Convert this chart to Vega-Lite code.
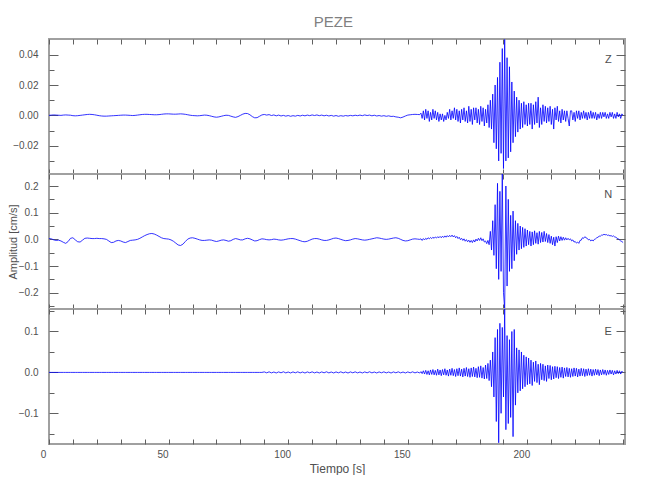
{
"$schema":"https://vega.github.io/schema/vega-lite/v6.json",
"background":"white",
"padding":{"left":6,"top":14,"right":0,"bottom":0},
"spacing":0,
"bounds":"flush",
"title":{"text":"PEZE","fontSize":15,"color":"#808080","fontWeight":"normal","font":"Liberation Sans","anchor":"middle","dx":17,"offset":8},
"config":{
 "font":"Liberation Sans",
 "view":{"stroke":"#a0a0a0","strokeWidth":2},
 "axis":{"domain":false,"grid":false,"tickColor":"#606060","tickWidth":1,"labelColor":"#505050","labelFontSize":10,"labelFont":"Liberation Sans","titleFont":"Liberation Sans","titleColor":"#505050","titleFontWeight":"normal","titleFontSize":11,"labelOverlap":false,"labelFlush":false}
},
"datasets":{"s":[
{"t":0,"z":0,"n":0.003,"e":0},
{"t":1,"z":0.0002,"n":0.002,"e":0},
{"t":2,"z":0.0003,"n":-0.002,"e":0},
{"t":3,"z":0.0002,"n":-0.004,"e":0},
{"t":4,"z":0.0001,"n":-0.003,"e":0},
{"t":5,"z":0,"n":-0.006,"e":0},
{"t":6,"z":0.0002,"n":-0.011,"e":0},
{"t":7,"z":0.0003,"n":-0.015,"e":0},
{"t":8,"z":0.0002,"n":-0.008,"e":0},
{"t":9,"z":0.0001,"n":0.004,"e":0},
{"t":10,"z":-0.0002,"n":0.006,"e":0},
{"t":11,"z":-0.0003,"n":-0.002,"e":0},
{"t":12,"z":-0.0002,"n":-0.009,"e":0},
{"t":13,"z":0,"n":-0.01,"e":0},
{"t":14,"z":0.0002,"n":-0.003,"e":0},
{"t":15,"z":0.0004,"n":0.004,"e":0},
{"t":16,"z":0.0006,"n":0.005,"e":0},
{"t":17,"z":0.0007,"n":0.004,"e":0},
{"t":18,"z":0.0006,"n":0.003,"e":0},
{"t":19,"z":0.0004,"n":0.003,"e":0},
{"t":20,"z":0.0001,"n":0.004,"e":0},
{"t":21,"z":-0.0002,"n":0.003,"e":0},
{"t":22,"z":-0.0004,"n":0.003,"e":0},
{"t":23,"z":-0.0005,"n":0.002,"e":0},
{"t":24,"z":-0.0005,"n":0,"e":0},
{"t":25,"z":-0.0004,"n":-0.006,"e":0},
{"t":26,"z":-0.0003,"n":-0.012,"e":0},
{"t":27,"z":-0.0002,"n":-0.011,"e":0},
{"t":28,"z":-0.0001,"n":-0.006,"e":0},
{"t":29,"z":0,"n":-0.004,"e":0},
{"t":30,"z":0.0001,"n":-0.006,"e":0},
{"t":31,"z":0.0002,"n":-0.01,"e":0},
{"t":32,"z":0.0002,"n":-0.012,"e":0},
{"t":33,"z":0.0001,"n":-0.008,"e":0},
{"t":34,"z":0,"n":-0.004,"e":0},
{"t":35,"z":-0.0001,"n":-0.003,"e":0},
{"t":36,"z":0,"n":-0.002,"e":0},
{"t":37,"z":0.0002,"n":0,"e":0},
{"t":38,"z":0.0004,"n":0.004,"e":0},
{"t":39,"z":0.0006,"n":0.009,"e":0},
{"t":40,"z":0.0007,"n":0.014,"e":0},
{"t":41,"z":0.0007,"n":0.018,"e":0},
{"t":42,"z":0.0006,"n":0.021,"e":0},
{"t":43,"z":0.0005,"n":0.022,"e":0},
{"t":44,"z":0.0004,"n":0.02,"e":0},
{"t":45,"z":0.0004,"n":0.016,"e":0},
{"t":46,"z":0.0005,"n":0.011,"e":0},
{"t":47,"z":0.0007,"n":0.006,"e":0},
{"t":48,"z":0.0009,"n":0.003,"e":0},
{"t":49,"z":0.001,"n":0.002,"e":0},
{"t":50,"z":0.001,"n":0.001,"e":0},
{"t":51,"z":0.0009,"n":-0.002,"e":0},
{"t":52,"z":0.0008,"n":-0.007,"e":0},
{"t":53,"z":0.0008,"n":-0.014,"e":0},
{"t":54,"z":0.0009,"n":-0.021,"e":0},
{"t":55,"z":0.001,"n":-0.023,"e":0},
{"t":56,"z":0.0009,"n":-0.018,"e":0},
{"t":57,"z":0.0007,"n":-0.008,"e":0},
{"t":58,"z":0.0004,"n":0.001,"e":0},
{"t":59,"z":0.0001,"n":0.005,"e":0},
{"t":60,"z":-0.0001,"n":0.006,"e":0},
{"t":61,"z":-0.0002,"n":0.004,"e":0},
{"t":62,"z":-0.0003,"n":0.001,"e":0},
{"t":63,"z":-0.0002,"n":-0.002,"e":0},
{"t":64,"z":0,"n":-0.004,"e":0},
{"t":65,"z":0.0002,"n":-0.004,"e":0},
{"t":66,"z":0.0001,"n":-0.003,"e":0},
{"t":67,"z":-0.0002,"n":-0.002,"e":0},
{"t":68,"z":-0.0006,"n":-0.003,"e":0},
{"t":69,"z":-0.001,"n":-0.006,"e":0},
{"t":70,"z":-0.0012,"n":-0.008,"e":0},
{"t":71,"z":-0.001,"n":-0.006,"e":0},
{"t":72,"z":-0.0006,"n":-0.003,"e":0},
{"t":73,"z":-0.0002,"n":-0.002,"e":0},
{"t":74,"z":0.0001,"n":-0.004,"e":0},
{"t":75,"z":0,"n":-0.007,"e":0},
{"t":76,"z":-0.0005,"n":-0.005,"e":0},
{"t":77,"z":-0.001,"n":0,"e":0},
{"t":78,"z":-0.0013,"n":0.003,"e":0},
{"t":79,"z":-0.0008,"n":0.001,"e":0},
{"t":80,"z":0,"n":-0.002,"e":0},
{"t":81,"z":0.0008,"n":-0.002,"e":0},
{"t":82,"z":0.0013,"n":0.002,"e":0},
{"t":83,"z":0.0012,"n":0.004,"e":0},
{"t":84,"z":0.0004,"n":0.002,"e":0},
{"t":85,"z":-0.0008,"n":-0.002,"e":0},
{"t":86,"z":-0.0016,"n":-0.006,"e":0},
{"t":87,"z":-0.0015,"n":-0.005,"e":0},
{"t":88,"z":-0.0006,"n":-0.001,"e":0},
{"t":89,"z":0.0003,"n":0.002,"e":0},
{"t":90,"z":0.0006,"n":0.001,"e":0.0012},
{"t":91,"z":0.0002,"n":-0.001,"e":-0.001},
{"t":92,"z":0.0005,"n":-0.002,"e":0.0014},
{"t":93,"z":-0.0001,"n":-0.001,"e":-0.0012},
{"t":94,"z":0.0003,"n":0.001,"e":0.001},
{"t":95,"z":-0.0003,"n":0,"e":-0.0014},
{"t":96,"z":0.0002,"n":-0.002,"e":0.0012},
{"t":97,"z":-0.0004,"n":-0.003,"e":-0.001},
{"t":98,"z":0,"n":-0.002,"e":0.0015},
{"t":99,"z":-0.0005,"n":0,"e":-0.0012},
{"t":100,"z":-0.0001,"n":0.002,"e":0.001},
{"t":101,"z":-0.0006,"n":0.003,"e":-0.0014},
{"t":102,"z":-0.0002,"n":0.003,"e":0.0012},
{"t":103,"z":-0.0005,"n":0.001,"e":-0.001},
{"t":104,"z":0,"n":-0.002,"e":0.0014},
{"t":105,"z":-0.0004,"n":-0.005,"e":-0.0012},
{"t":106,"z":0.0001,"n":-0.008,"e":0.001},
{"t":107,"z":-0.0003,"n":-0.009,"e":-0.0015},
{"t":108,"z":0.0002,"n":-0.007,"e":0.0012},
{"t":109,"z":-0.0002,"n":-0.003,"e":-0.001},
{"t":110,"z":0.0003,"n":0.001,"e":0.0014},
{"t":111,"z":-0.0001,"n":0.003,"e":-0.0012},
{"t":112,"z":0.0003,"n":0.003,"e":0.001},
{"t":113,"z":-0.0002,"n":0.001,"e":-0.0014},
{"t":114,"z":0.0002,"n":-0.002,"e":0.0012},
{"t":115,"z":-0.0003,"n":-0.004,"e":-0.001},
{"t":116,"z":0.0001,"n":-0.004,"e":0.0015},
{"t":117,"z":-0.0004,"n":-0.002,"e":-0.0012},
{"t":118,"z":0,"n":0.001,"e":0.001},
{"t":119,"z":-0.0005,"n":0.004,"e":-0.0014},
{"t":120,"z":-0.0001,"n":0.005,"e":0.0012},
{"t":121,"z":-0.0006,"n":0.003,"e":-0.001},
{"t":122,"z":-0.0002,"n":0,"e":0.0014},
{"t":123,"z":-0.0005,"n":-0.003,"e":-0.0012},
{"t":124,"z":-0.0001,"n":-0.005,"e":0.001},
{"t":125,"z":-0.0004,"n":-0.004,"e":-0.0015},
{"t":126,"z":0,"n":-0.002,"e":0.0012},
{"t":127,"z":-0.0003,"n":0.001,"e":-0.001},
{"t":128,"z":0.0001,"n":0.003,"e":0.0014},
{"t":129,"z":-0.0002,"n":0.002,"e":-0.0012},
{"t":130,"z":0.0002,"n":0,"e":0.001},
{"t":131,"z":-0.0002,"n":-0.002,"e":-0.0014},
{"t":132,"z":0.0003,"n":-0.003,"e":0.0012},
{"t":133,"z":-0.0001,"n":-0.002,"e":-0.001},
{"t":134,"z":0.0002,"n":0,"e":0.0015},
{"t":135,"z":-0.0003,"n":0.002,"e":-0.0012},
{"t":136,"z":0.0001,"n":0.004,"e":0.001},
{"t":137,"z":-0.0004,"n":0.006,"e":-0.0014},
{"t":138,"z":-0.0001,"n":0.005,"e":0.0012},
{"t":139,"z":-0.0005,"n":0.003,"e":-0.001},
{"t":140,"z":-0.0002,"n":0.001,"e":0.0014},
{"t":141,"z":-0.0006,"n":0,"e":-0.0012},
{"t":142,"z":-0.0003,"n":0.001,"e":0.001},
{"t":143,"z":-0.0007,"n":0.003,"e":-0.0015},
{"t":144,"z":-0.0006,"n":0.005,"e":0.0012},
{"t":145,"z":-0.001,"n":0.006,"e":-0.001},
{"t":146,"z":-0.0012,"n":0.004,"e":0.0014},
{"t":147,"z":-0.0016,"n":0,"e":-0.0012},
{"t":148,"z":-0.0011,"n":-0.004,"e":0.001},
{"t":149,"z":-0.0004,"n":-0.006,"e":-0.0014},
{"t":150,"z":0.0002,"n":-0.005,"e":0.0012},
{"t":151,"z":0.0004,"n":-0.002,"e":-0.001},
{"t":152,"z":0.0006,"n":0.001,"e":0.0014},
{"t":153,"z":0.0007,"n":0.002,"e":-0.0012},
{"t":154,"z":0.0006,"n":0.001,"e":0.001},
{"t":155,"z":0.0005,"n":0,"e":-0.0015},
{"t":155.5,"z":0.0015,"n":0.002,"e":0.002},
{"t":156,"z":-0.002,"n":-0.004,"e":-0.003},
{"t":156.5,"z":0.003,"n":0.003,"e":0.004},
{"t":157,"z":-0.003,"n":-0.002,"e":-0.004},
{"t":157.5,"z":0.004,"n":0.004,"e":0.005},
{"t":158,"z":-0.002,"n":0,"e":-0.005},
{"t":158.5,"z":0.003,"n":0.006,"e":0.004},
{"t":159,"z":-0.004,"n":0.002,"e":-0.006},
{"t":159.5,"z":0.002,"n":0.007,"e":0.006},
{"t":160,"z":-0.003,"n":0.003,"e":-0.005},
{"t":160.5,"z":0.004,"n":0.008,"e":0.007},
{"t":161,"z":-0.002,"n":0.004,"e":-0.006},
{"t":161.5,"z":0.003,"n":0.009,"e":0.005},
{"t":162,"z":-0.003,"n":0.005,"e":-0.007},
{"t":162.5,"z":0.002,"n":0.01,"e":0.008},
{"t":163,"z":-0.004,"n":0.006,"e":-0.006},
{"t":163.5,"z":0.001,"n":0.011,"e":0.006},
{"t":164,"z":-0.003,"n":0.006,"e":-0.008},
{"t":164.5,"z":0.001,"n":0.012,"e":0.007},
{"t":165,"z":-0.004,"n":0.007,"e":-0.006},
{"t":165.5,"z":0,"n":0.013,"e":0.009},
{"t":166,"z":-0.003,"n":0.008,"e":-0.007},
{"t":166.5,"z":0.002,"n":0.014,"e":0.006},
{"t":167,"z":-0.002,"n":0.009,"e":-0.009},
{"t":167.5,"z":0.004,"n":0.015,"e":0.008},
{"t":168,"z":-0.003,"n":0.01,"e":-0.007},
{"t":168.5,"z":0.003,"n":0.016,"e":0.01},
{"t":169,"z":-0.002,"n":0.009,"e":-0.008},
{"t":169.5,"z":0.005,"n":0.014,"e":0.007},
{"t":170,"z":-0.003,"n":0.006,"e":-0.01},
{"t":170.5,"z":0.004,"n":0.011,"e":0.009},
{"t":171,"z":-0.004,"n":0.003,"e":-0.008},
{"t":171.5,"z":0.003,"n":0.008,"e":0.011},
{"t":172,"z":-0.005,"n":-0.001,"e":-0.009},
{"t":172.5,"z":0.004,"n":0.004,"e":0.008},
{"t":173,"z":-0.003,"n":-0.004,"e":-0.011},
{"t":173.5,"z":0.005,"n":0.002,"e":0.01},
{"t":174,"z":-0.004,"n":-0.007,"e":-0.009},
{"t":174.5,"z":0.003,"n":-0.001,"e":0.012},
{"t":175,"z":-0.005,"n":-0.009,"e":-0.01},
{"t":175.5,"z":0.006,"n":-0.003,"e":0.009},
{"t":176,"z":-0.004,"n":-0.011,"e":-0.012},
{"t":176.5,"z":0.004,"n":-0.004,"e":0.011},
{"t":177,"z":-0.006,"n":-0.012,"e":-0.01},
{"t":177.5,"z":0.005,"n":-0.002,"e":0.013},
{"t":178,"z":-0.003,"n":-0.01,"e":-0.011},
{"t":178.5,"z":0.005,"n":0.001,"e":0.01},
{"t":179,"z":-0.005,"n":-0.006,"e":-0.013},
{"t":179.5,"z":0.004,"n":0.004,"e":0.014},
{"t":180,"z":-0.006,"n":-0.004,"e":-0.012},
{"t":180.5,"z":0.006,"n":0.006,"e":0.016},
{"t":181,"z":-0.004,"n":-0.005,"e":-0.014},
{"t":181.5,"z":0.005,"n":0.002,"e":0.012},
{"t":182,"z":-0.007,"n":-0.01,"e":-0.016},
{"t":182.5,"z":0.004,"n":-0.006,"e":0.018},
{"t":183,"z":-0.005,"n":-0.016,"e":-0.015},
{"t":183.5,"z":0.007,"n":-0.004,"e":0.022},
{"t":184,"z":-0.008,"n":-0.02,"e":-0.02},
{"t":184.5,"z":0.01,"n":0.03,"e":0.03},
{"t":185,"z":-0.009,"n":-0.04,"e":-0.035},
{"t":185.5,"z":0.014,"n":0.07,"e":0.05},
{"t":186,"z":-0.018,"n":-0.06,"e":-0.06},
{"t":186.5,"z":0.02,"n":0.13,"e":0.085},
{"t":187,"z":-0.022,"n":-0.11,"e":-0.12},
{"t":187.5,"z":0.025,"n":0.21,"e":0.105},
{"t":188,"z":-0.03,"n":-0.15,"e":-0.172},
{"t":188.5,"z":0.035,"n":0.18,"e":0.12},
{"t":189,"z":-0.025,"n":-0.12,"e":-0.1},
{"t":189.5,"z":0.044,"n":0.245,"e":0.11},
{"t":190,"z":-0.035,"n":-0.2,"e":-0.06},
{"t":190.5,"z":0.05,"n":-0.261,"e":0.155},
{"t":191,"z":-0.03,"n":0.2,"e":-0.14},
{"t":191.5,"z":0.038,"n":-0.175,"e":0.09},
{"t":192,"z":-0.028,"n":0.15,"e":-0.125},
{"t":192.5,"z":0.032,"n":-0.12,"e":0.08},
{"t":193,"z":-0.024,"n":0.09,"e":-0.11},
{"t":193.5,"z":0.022,"n":-0.11,"e":0.1},
{"t":194,"z":-0.018,"n":0.106,"e":-0.157},
{"t":194.5,"z":0.016,"n":-0.08,"e":0.105},
{"t":195,"z":-0.014,"n":0.07,"e":-0.08},
{"t":195.5,"z":0.012,"n":-0.056,"e":0.06},
{"t":196,"z":-0.011,"n":0.06,"e":-0.05},
{"t":196.5,"z":0.01,"n":-0.04,"e":0.055},
{"t":197,"z":-0.009,"n":0.05,"e":-0.045},
{"t":197.5,"z":0.008,"n":-0.035,"e":0.05},
{"t":198,"z":-0.008,"n":0.045,"e":-0.04},
{"t":198.5,"z":0.009,"n":-0.03,"e":0.042},
{"t":199,"z":-0.006,"n":0.04,"e":-0.035},
{"t":199.5,"z":0.007,"n":-0.025,"e":0.038},
{"t":200,"z":-0.007,"n":0.035,"e":-0.03},
{"t":200.5,"z":0.008,"n":-0.02,"e":0.035},
{"t":201,"z":-0.006,"n":0.03,"e":-0.028},
{"t":201.5,"z":0.008,"n":-0.025,"e":0.03},
{"t":202,"z":-0.009,"n":0.028,"e":-0.032},
{"t":202.5,"z":0.007,"n":-0.02,"e":0.025},
{"t":203,"z":-0.006,"n":0.032,"e":-0.022},
{"t":203.5,"z":0.009,"n":-0.015,"e":0.028},
{"t":204,"z":-0.005,"n":0.025,"e":-0.025},
{"t":204.5,"z":0.012,"n":-0.018,"e":0.02},
{"t":205,"z":-0.008,"n":0.03,"e":-0.03},
{"t":205.5,"z":0.005,"n":-0.012,"e":0.022},
{"t":206,"z":-0.006,"n":0.026,"e":-0.018},
{"t":206.5,"z":0.007,"n":-0.01,"e":0.02},
{"t":207,"z":-0.004,"n":0.03,"e":-0.02},
{"t":207.5,"z":0.006,"n":-0.008,"e":0.016},
{"t":208,"z":-0.005,"n":0.022,"e":-0.022},
{"t":208.5,"z":0.005,"n":-0.012,"e":0.018},
{"t":209,"z":-0.004,"n":0.018,"e":-0.015},
{"t":209.5,"z":0.006,"n":-0.015,"e":0.017},
{"t":210,"z":-0.006,"n":0.012,"e":-0.018},
{"t":210.5,"z":0.004,"n":-0.02,"e":0.014},
{"t":211,"z":-0.009,"n":0.008,"e":-0.016},
{"t":211.5,"z":0.005,"n":-0.025,"e":0.015},
{"t":212,"z":-0.003,"n":0.01,"e":-0.013},
{"t":212.5,"z":0.006,"n":-0.012,"e":0.014},
{"t":213,"z":-0.004,"n":0.012,"e":-0.015},
{"t":213.5,"z":0.003,"n":-0.006,"e":0.012},
{"t":214,"z":-0.005,"n":0.01,"e":-0.012},
{"t":214.5,"z":0.004,"n":-0.004,"e":0.013},
{"t":215,"z":-0.003,"n":0.008,"e":-0.014},
{"t":215.5,"z":0.003,"n":-0.003,"e":0.011},
{"t":216,"z":-0.004,"n":0.006,"e":-0.01},
{"t":216.5,"z":0.003,"n":-0.002,"e":0.012},
{"t":217,"z":-0.002,"n":0.004,"e":-0.011},
{"t":217.5,"z":-0.007,"n":-0.002,"e":0.01},
{"t":218,"z":0.003,"n":0.002,"e":-0.012},
{"t":218.5,"z":0.003,"n":-0.006,"e":0.009},
{"t":219,"z":-0.003,"n":-0.002,"e":-0.01},
{"t":219.5,"z":0.002,"n":-0.01,"e":0.011},
{"t":220,"z":-0.004,"n":-0.008,"e":-0.009},
{"t":220.5,"z":0.003,"n":-0.014,"e":0.01},
{"t":221,"z":-0.002,"n":-0.01,"e":-0.011},
{"t":221.5,"z":0.003,"n":-0.015,"e":0.008},
{"t":222,"z":-0.003,"n":-0.004,"e":-0.009},
{"t":222.5,"z":0.002,"n":-0.003,"e":0.01},
{"t":223,"z":-0.002,"n":0.006,"e":-0.008},
{"t":223.5,"z":0.003,"n":0.004,"e":0.009},
{"t":224,"z":-0.002,"n":0.01,"e":-0.01},
{"t":224.5,"z":0.002,"n":0.006,"e":0.008},
{"t":225,"z":-0.003,"n":0.004,"e":-0.008},
{"t":225.5,"z":0.002,"n":-0.002,"e":0.009},
{"t":226,"z":-0.002,"n":0,"e":-0.007},
{"t":226.5,"z":0.003,"n":-0.006,"e":0.008},
{"t":227,"z":-0.002,"n":-0.002,"e":-0.009},
{"t":227.5,"z":0.002,"n":-0.006,"e":0.007},
{"t":228,"z":-0.002,"n":0,"e":-0.007},
{"t":228.5,"z":0.002,"n":0.002,"e":0.008},
{"t":229,"z":-0.003,"n":0.006,"e":-0.006},
{"t":229.5,"z":0.001,"n":0.008,"e":0.007},
{"t":230,"z":-0.002,"n":0.012,"e":-0.008},
{"t":230.5,"z":0.002,"n":0.012,"e":0.006},
{"t":231,"z":-0.002,"n":0.016,"e":-0.006},
{"t":231.5,"z":0.002,"n":0.016,"e":0.007},
{"t":232,"z":-0.001,"n":0.019,"e":-0.005},
{"t":232.5,"z":0.002,"n":0.017,"e":0.006},
{"t":233,"z":-0.002,"n":0.018,"e":-0.007},
{"t":233.5,"z":0.001,"n":0.015,"e":0.005},
{"t":234,"z":-0.002,"n":0.016,"e":-0.005},
{"t":234.5,"z":0.002,"n":0.013,"e":0.006},
{"t":235,"z":-0.001,"n":0.014,"e":-0.004},
{"t":235.5,"z":0.002,"n":0.011,"e":0.005},
{"t":236,"z":-0.002,"n":0.013,"e":-0.006},
{"t":236.5,"z":0.001,"n":0.009,"e":0.004},
{"t":237,"z":-0.002,"n":0.008,"e":-0.004},
{"t":237.5,"z":0.002,"n":0.004,"e":0.005},
{"t":238,"z":-0.001,"n":0.002,"e":-0.003},
{"t":238.5,"z":0.001,"n":-0.002,"e":0.004},
{"t":239,"z":-0.002,"n":-0.006,"e":-0.004},
{"t":239.5,"z":0.001,"n":-0.008,"e":0.003},
{"t":240,"z":0,"n":-0.012,"e":0}
]},
"vconcat":[
{
 "width":576,"height":135,
 "layer":[
  {"data":{"name":"s"},
   "mark":{"type":"line","color":"#0000ff","strokeWidth":0.8,"clip":true},
   "encoding":{
    "x":{"field":"t","type":"quantitative","scale":{"domain":[0,240.8],"nice":false,"zero":false},
         "axis":{"orient":"bottom","values":[0,10,20,30,40,50,60,70,80,90,100,110,120,130,140,150,160,170,180,190,200,210,220,230,240],"labels":false,"tickSize":-5,"title":null}},
    "y":{"field":"z","type":"quantitative","scale":{"domain":[-0.0386,0.0503],"nice":false,"zero":false},
         "axis":{"orient":"left","values":[-0.03,-0.02,-0.01,0,0.01,0.02,0.03,0.04],"format":".2f","labelExpr":"round(datum.value*100) % 2 == 0 ? datum.label : ''","tickSize":{"condition":{"test":"round(datum.value*100) % 2 == 0","value":-9},"value":-5},"labelPadding":20,"title":null}}
   }},
  {"data":{"values":[{"lab":"Z"}]},
   "mark":{"type":"text","fontSize":11,"color":"#505050"},
   "encoding":{
    "text":{"field":"lab"},
    "x":{"datum":233.8,"type":"quantitative","axis":{"orient":"top","values":[0,10,20,30,40,50,60,70,80,90,100,110,120,130,140,150,160,170,180,190,200,210,220,230,240],"labels":false,"tickSize":-5,"title":null}},
    "y":{"datum":0.0363,"type":"quantitative","axis":{"orient":"right","values":[-0.03,-0.02,-0.01,0,0.01,0.02,0.03,0.04],"labels":false,"tickSize":{"condition":{"test":"round(datum.value*100) % 2 == 0","value":-9},"value":-5},"title":null}}
   }}
 ],
 "resolve":{"axis":{"x":"independent","y":"independent"}}
},
{
 "width":576,"height":135,
 "layer":[
  {"data":{"name":"s"},
   "mark":{"type":"line","color":"#0000ff","strokeWidth":0.8,"clip":true},
   "encoding":{
    "x":{"field":"t","type":"quantitative","scale":{"domain":[0,240.8],"nice":false,"zero":false},
         "axis":{"orient":"bottom","values":[0,10,20,30,40,50,60,70,80,90,100,110,120,130,140,150,160,170,180,190,200,210,220,230,240],"labels":false,"tickSize":-5,"title":null}},
    "y":{"field":"n","type":"quantitative","scale":{"domain":[-0.261,0.245],"nice":false,"zero":false},
         "axis":{"orient":"left","values":[-0.25,-0.2,-0.15,-0.1,-0.05,0,0.05,0.1,0.15,0.2],"format":".1f","labelExpr":"round(datum.value*20) % 2 == 0 ? datum.label : ''","tickSize":{"condition":{"test":"round(datum.value*20) % 2 == 0","value":-9},"value":-5},"labelPadding":20,"title":"Amplitud [cm/s]","titlePadding":0}}
   }},
  {"data":{"values":[{"lab":"N"}]},
   "mark":{"type":"text","fontSize":11,"color":"#505050"},
   "encoding":{
    "text":{"field":"lab"},
    "x":{"datum":233.8,"type":"quantitative","axis":{"orient":"top","values":[0,10,20,30,40,50,60,70,80,90,100,110,120,130,140,150,160,170,180,190,200,210,220,230,240],"labels":false,"tickSize":-5,"title":null}},
    "y":{"datum":0.165,"type":"quantitative","axis":{"orient":"right","values":[-0.25,-0.2,-0.15,-0.1,-0.05,0,0.05,0.1,0.15,0.2],"labels":false,"tickSize":{"condition":{"test":"round(datum.value*20) % 2 == 0","value":-9},"value":-5},"title":null}}
   }}
 ],
 "resolve":{"axis":{"x":"independent","y":"independent"}}
},
{
 "width":576,"height":135,
 "layer":[
  {"data":{"name":"s"},
   "mark":{"type":"line","color":"#0000ff","strokeWidth":0.8,"clip":true},
   "encoding":{
    "x":{"field":"t","type":"quantitative","scale":{"domain":[0,240.8],"nice":false,"zero":false},
         "axis":{"orient":"bottom","values":[0,10,20,30,40,50,60,70,80,90,100,110,120,130,140,150,160,170,180,190,200,210,220,230,240],"labelExpr":"datum.value % 50 == 0 ? datum.label : ''","tickSize":-5,"labelPadding":10,"labelOffset":-6,"title":"Tiempo [s]","titleFontSize":12,"titlePadding":4}},
    "y":{"field":"e","type":"quantitative","scale":{"domain":[-0.175,0.155],"nice":false,"zero":false},
         "axis":{"orient":"left","values":[-0.15,-0.1,-0.05,0,0.05,0.1,0.15],"format":".1f","labelExpr":"round(datum.value*20) % 2 == 0 ? datum.label : ''","tickSize":{"condition":{"test":"round(datum.value*20) % 2 == 0","value":-9},"value":-5},"labelPadding":20,"title":null}}
   }},
  {"data":{"values":[{"lab":"E"}]},
   "mark":{"type":"text","fontSize":11,"color":"#505050"},
   "encoding":{
    "text":{"field":"lab"},
    "x":{"datum":233.8,"type":"quantitative","axis":{"orient":"top","values":[0,10,20,30,40,50,60,70,80,90,100,110,120,130,140,150,160,170,180,190,200,210,220,230,240],"labels":false,"tickSize":-5,"title":null}},
    "y":{"datum":0.1,"type":"quantitative","axis":{"orient":"right","values":[-0.15,-0.1,-0.05,0,0.05,0.1,0.15],"labels":false,"tickSize":{"condition":{"test":"round(datum.value*20) % 2 == 0","value":-9},"value":-5},"title":null}}
   }}
 ],
 "resolve":{"axis":{"x":"independent","y":"independent"}}
}
]
}
